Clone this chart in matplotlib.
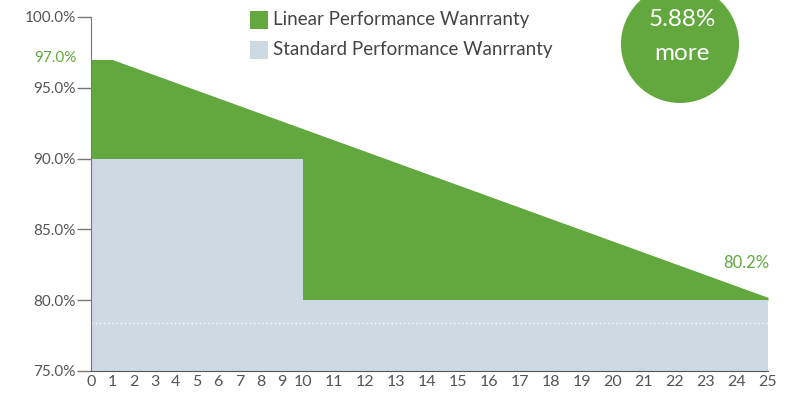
import numpy as np
import matplotlib
matplotlib.use('Agg')
from matplotlib import pyplot as plt
from matplotlib.patches import Rectangle, Ellipse

plt.rcParams['font.family'] = ['Lato', 'DejaVu Sans']

# data
years = list(range(0, 26))
linear_years = [0, 1, 25]
linear_values = [97.0, 97.0, 80.2]
standard_years = [0, 10, 10, 25]
standard_values = [90.0, 90.0, 80.0, 80.0]
y_ticks = [75, 80, 85, 90, 95, 100]
y_labels = ['75.0%', '80.0%', '85.0%', '90.0%', '95.0%', '100.0%']
dotted_level = 78.4
labels = ['Linear Performance Wanrranty', 'Standard Performance Wanrranty']
badge = ['5.88%', 'more']

green = '#62a83e'
light = '#cdd9e3'
grey = '#555555'

# x axis is squeezed for the first 10 years
k = 31 / 21.2


def fwd(x):
    x = np.asarray(x, dtype=float)
    return np.where(x <= 10, x, 10 + (x - 10) * k)


def inv(x):
    x = np.asarray(x, dtype=float)
    return np.where(x <= 10, x, 10 + (x - 10) / k)


fig = plt.figure(figsize=(8, 4), dpi=100)
ax = fig.add_axes([91 / 800, 1 - 371 / 400, 677 / 800, 354 / 400])
ax.set_xscale('function', functions=(fwd, inv))

# green only needs to reach down to the lowest standard level
ax.fill_between(linear_years, min(standard_values), linear_values, color=green, lw=0)
ax.fill_between(standard_years, 75, standard_values, color=light, lw=0)
ax.axhline(dotted_level, color='white', ls=(0, (1, 2)), lw=1)

ax.set_xlim(0, 25)
ax.set_ylim(75, 100)
ax.set_xticks(years)
ax.set_xticklabels([str(y) for y in years], fontsize=11.5, color=grey)
ax.set_yticks(y_ticks)
ax.set_yticklabels(y_labels, fontsize=11, color=grey)
ax.tick_params(axis='x', length=0, pad=3)
ax.tick_params(axis='y', length=10, width=1, color='#777777', pad=1)

for s in ['top', 'right']:
    ax.spines[s].set_visible(False)
ax.spines['left'].set_linestyle((0, (2, 1)))
ax.spines['left'].set_color('#777777')
ax.spines['bottom'].set_linestyle((0, (3, 1)))
ax.spines['bottom'].set_color('#555555')

ax.annotate('97.0%', xy=(0, linear_values[0]), xytext=(-10, 1), textcoords='offset points',
            ha='right', va='center', fontsize=11, color=green)
ax.annotate('80.2%', xy=(25, linear_values[-1]), xytext=(1, 19), textcoords='offset points',
            ha='right', va='bottom', fontsize=12, color=green)

# legend
fig.add_artist(Rectangle((250 / 800, 1 - 29 / 400), 18 / 800, 18 / 400,
                         transform=fig.transFigure, color=green, lw=0))
fig.add_artist(Rectangle((250 / 800, 1 - 59 / 400), 18 / 800, 18 / 400,
                         transform=fig.transFigure, color=light, lw=0))
fig.text(273 / 800, 1 - 20 / 400, labels[0], fontsize=13.5, color='#444444', va='center')
fig.text(273 / 800, 1 - 50 / 400, labels[1], fontsize=13.5, color='#444444', va='center')

# badge
fig.add_artist(Ellipse((680 / 800, 1 - 44 / 400), 118 / 800, 118 / 400,
                       transform=fig.transFigure, color=green, lw=0))
fig.text(682 / 800, 1 - 19 / 400, badge[0], fontsize=17.5, color='white', ha='center', va='center')
fig.text(682 / 800, 1 - 53 / 400, badge[1], fontsize=17.5, color='white', ha='center', va='center')

fig.savefig('out.png', dpi=100)
